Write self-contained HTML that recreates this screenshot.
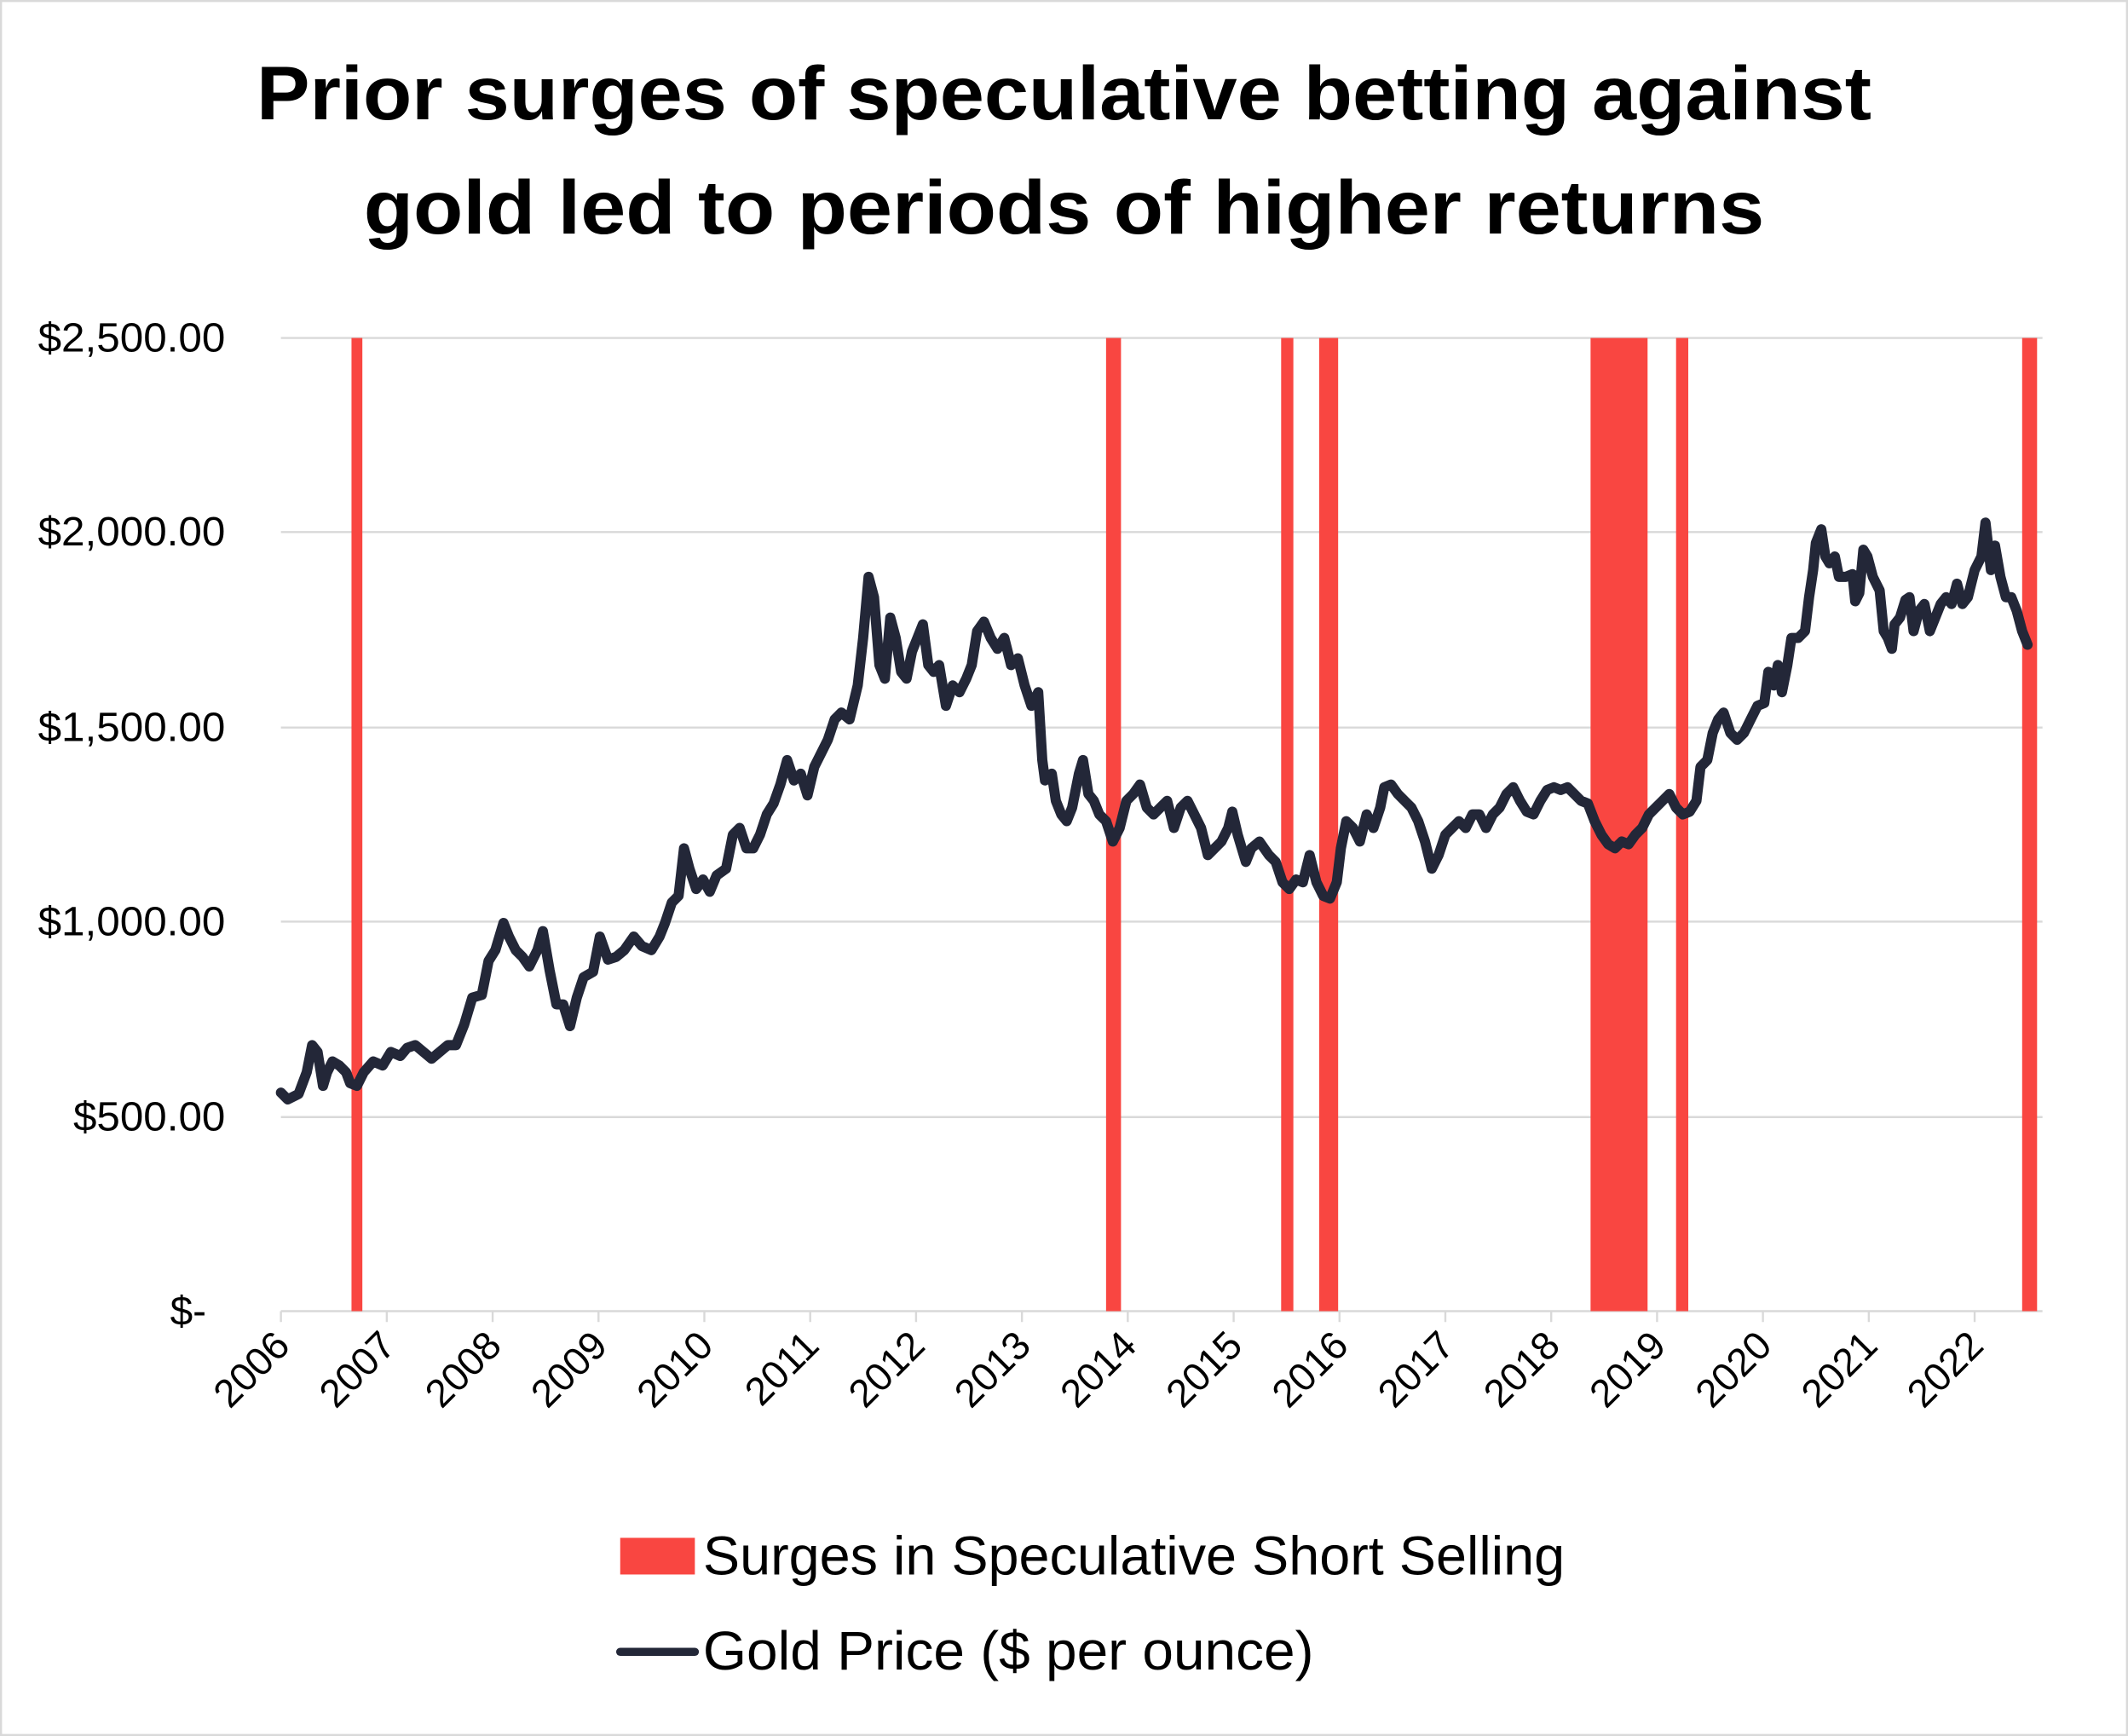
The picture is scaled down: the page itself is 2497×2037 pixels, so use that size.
<!DOCTYPE html>
<html><head><meta charset="utf-8"><style>html,body{margin:0;padding:0;background:#fff}svg{display:block}</style></head><body>
<svg width="2497" height="2037" viewBox="0 0 1568 1279" preserveAspectRatio="none" xmlns="http://www.w3.org/2000/svg" font-family="'Liberation Sans', sans-serif">
<rect x="0.5" y="0.5" width="1567" height="1278" fill="#fff" stroke="#d9d9d9" stroke-width="2"/>
<text x="784" y="88" font-size="56" font-weight="bold" text-anchor="middle" textLength="1190" lengthAdjust="spacingAndGlyphs">Prior surges of speculative betting against</text>
<text x="784" y="172" font-size="56" font-weight="bold" text-anchor="middle" textLength="1032" lengthAdjust="spacingAndGlyphs">gold led to periods of higher returns</text>
<g stroke="#d9d9d9" stroke-width="1.5">
<line x1="207" y1="249" x2="1505" y2="249"/><line x1="207" y1="392" x2="1505" y2="392"/><line x1="207" y1="536" x2="1505" y2="536"/><line x1="207" y1="679" x2="1505" y2="679"/><line x1="207" y1="823" x2="1505" y2="823"/><line x1="207" y1="966" x2="1505" y2="966"/>
<line x1="207" y1="966" x2="207" y2="974"/><line x1="285" y1="966" x2="285" y2="974"/><line x1="363" y1="966" x2="363" y2="974"/><line x1="441" y1="966" x2="441" y2="974"/><line x1="519" y1="966" x2="519" y2="974"/><line x1="597" y1="966" x2="597" y2="974"/><line x1="675" y1="966" x2="675" y2="974"/><line x1="753" y1="966" x2="753" y2="974"/><line x1="831" y1="966" x2="831" y2="974"/><line x1="909" y1="966" x2="909" y2="974"/><line x1="987" y1="966" x2="987" y2="974"/><line x1="1065" y1="966" x2="1065" y2="974"/><line x1="1143" y1="966" x2="1143" y2="974"/><line x1="1221" y1="966" x2="1221" y2="974"/><line x1="1299" y1="966" x2="1299" y2="974"/><line x1="1377" y1="966" x2="1377" y2="974"/><line x1="1455" y1="966" x2="1455" y2="974"/>
</g>
<g fill="#f94641">
<rect x="259" y="249" width="8" height="717"/><rect x="815" y="249" width="11" height="717"/><rect x="944" y="249" width="9" height="717"/><rect x="972" y="249" width="14" height="717"/><rect x="1172" y="249" width="42" height="717"/><rect x="1235" y="249" width="9" height="717"/><rect x="1490" y="249" width="11" height="717"/>
</g>
<g font-size="30" text-anchor="end" fill="#000">
<text x="166" y="259" textLength="138" lengthAdjust="spacingAndGlyphs">$2,500.00</text><text x="166" y="402" textLength="138" lengthAdjust="spacingAndGlyphs">$2,000.00</text><text x="166" y="546" textLength="138" lengthAdjust="spacingAndGlyphs">$1,500.00</text><text x="166" y="689" textLength="138" lengthAdjust="spacingAndGlyphs">$1,000.00</text><text x="166" y="833" textLength="112" lengthAdjust="spacingAndGlyphs">$500.00</text><text x="152" y="976">$-</text>
</g>
<g font-size="29" text-anchor="end" fill="#000">
<text transform="translate(215,993) rotate(-45)">2006</text><text transform="translate(293,993) rotate(-45)">2007</text><text transform="translate(371,993) rotate(-45)">2008</text><text transform="translate(449,993) rotate(-45)">2009</text><text transform="translate(527,993) rotate(-45)">2010</text><text transform="translate(605,993) rotate(-45)">2011</text><text transform="translate(683,993) rotate(-45)">2012</text><text transform="translate(761,993) rotate(-45)">2013</text><text transform="translate(839,993) rotate(-45)">2014</text><text transform="translate(917,993) rotate(-45)">2015</text><text transform="translate(995,993) rotate(-45)">2016</text><text transform="translate(1073,993) rotate(-45)">2017</text><text transform="translate(1151,993) rotate(-45)">2018</text><text transform="translate(1229,993) rotate(-45)">2019</text><text transform="translate(1307,993) rotate(-45)">2020</text><text transform="translate(1385,993) rotate(-45)">2021</text><text transform="translate(1463,993) rotate(-45)">2022</text>
</g>
<polyline fill="none" stroke="#232738" stroke-width="7.5" stroke-linejoin="round" stroke-linecap="round" points="207,805 212,810 220,806 226,790 230,770 234,775 238,800 241,790 245,782 250,785 255,790 258,798 263,800 268,790 275,782 282,785 288,775 295,778 300,772 306,770 312,775 318,780 324,775 330,770 336,770 342,755 348,735 355,733 360,708 365,700 371,680 375,690 380,700 385,705 390,712 396,700 400,686 405,715 410,740 415,740 420,756 425,735 430,720 437,716 442,690 448,707 454,705 460,700 467,690 473,697 480,700 486,690 490,680 495,665 500,660 504,625 508,640 513,655 518,648 523,657 528,645 535,640 540,615 545,610 550,625 555,625 560,615 565,600 570,592 575,578 580,560 585,575 590,570 595,586 600,565 605,555 610,545 615,530 620,525 626,530 632,505 636,470 640,425 644,440 648,490 652,500 656,455 660,470 664,495 668,500 672,480 676,470 680,460 684,490 688,495 692,490 697,520 702,505 707,510 712,500 716,490 720,465 725,458 730,470 735,478 740,470 745,490 750,485 755,505 760,520 765,510 768,560 770,575 775,570 778,590 782,600 786,605 790,595 795,570 798,560 802,585 806,590 810,600 815,605 820,620 825,610 830,590 835,585 840,578 845,595 850,600 855,595 860,590 865,610 870,595 875,590 880,600 885,610 890,630 895,625 900,620 905,610 908,598 912,615 918,635 922,625 928,620 935,630 940,635 945,650 950,655 955,648 960,650 965,630 970,650 975,660 980,662 985,650 988,625 992,605 997,610 1002,620 1007,600 1012,610 1017,595 1020,580 1025,578 1030,585 1035,590 1040,595 1045,605 1050,620 1055,640 1060,630 1065,615 1070,610 1075,605 1080,610 1085,600 1090,600 1095,610 1100,600 1105,595 1110,585 1115,580 1120,590 1125,598 1130,600 1135,590 1140,582 1145,580 1150,582 1155,580 1160,585 1165,590 1170,592 1175,605 1180,615 1185,622 1190,625 1195,620 1200,622 1205,615 1210,610 1215,600 1220,595 1225,590 1230,585 1235,595 1240,600 1245,598 1250,590 1253,565 1258,560 1262,540 1266,530 1270,525 1275,540 1280,545 1285,540 1290,530 1295,520 1300,518 1303,495 1307,505 1310,490 1313,510 1317,490 1320,470 1325,470 1330,465 1333,440 1336,420 1338,400 1342,390 1345,410 1348,415 1352,410 1355,425 1360,425 1365,423 1367,443 1370,437 1373,405 1376,410 1380,425 1385,435 1388,465 1391,470 1394,478 1396,460 1400,455 1404,442 1407,440 1410,465 1414,450 1418,445 1422,465 1426,455 1430,445 1434,440 1438,445 1442,430 1446,445 1450,440 1455,420 1460,410 1463,385 1467,420 1470,402 1474,425 1478,440 1482,440 1486,450 1490,465 1494,475"/>
<rect x="457" y="1133" width="55" height="27" fill="#f94641"/>
<text x="518" y="1160" font-size="40" textLength="635" lengthAdjust="spacingAndGlyphs">Surges in Speculative Short Selling</text>
<line x1="457" y1="1217" x2="512" y2="1217" stroke="#232738" stroke-width="6" stroke-linecap="round"/>
<text x="518" y="1230" font-size="40" textLength="450" lengthAdjust="spacingAndGlyphs">Gold Price ($ per ounce)</text>
</svg>
</body></html>
